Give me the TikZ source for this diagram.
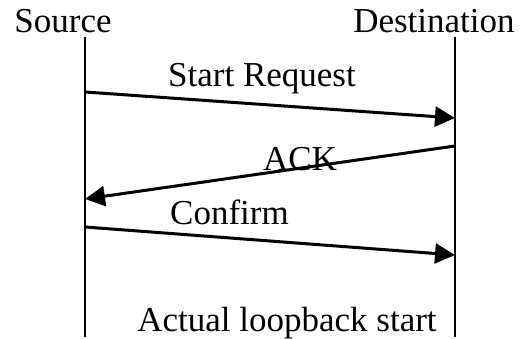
\documentclass[tikz,border=0pt]{standalone}
\usepackage{fontspec}
\setmainfont{Liberation Serif}
\usetikzlibrary{arrows.meta,positioning}

\begin{document}
\begin{tikzpicture}[x=1pt,y=-1pt,
  every node/.style={font=\fontsize{35}{40}\selectfont,inner sep=0pt,anchor=base},
  lebenslinie/.style={line width=2pt},
  nachricht/.style={line width=3pt,-{Triangle[length=20pt,width=20pt]}}]
%Rahmen in Pixeln, y nach unten
  \useasboundingbox (0,0) rectangle (525,339);
  \pgfmathsetmacro{\xQ}{85}
  \pgfmathsetmacro{\xZ}{455}
%Kopfzeile
  \node (quelle) at (63,33) {Source};
  \node (ziel) at (434,33) {Destination};
%Lebenslinien
  \coordinate (qOben) at (\xQ,37);
  \coordinate (qUnten) at (\xQ,337);
  \coordinate (zOben) at (\xZ,37);
  \coordinate (zUnten) at (\xZ,337);
  \draw[lebenslinie] (qOben) -- (qUnten);
  \draw[lebenslinie] (zOben) -- (zUnten);
%Nachrichten: Start, Quittung, Bestaetigung
  \coordinate (q1) at (\xQ,92);
  \coordinate (z1) at (\xZ,118);
  \coordinate (z2) at (\xZ,146);
  \coordinate (q2) at (\xQ,199);
  \coordinate (q3) at (\xQ,227);
  \coordinate (z3) at (\xZ,255);
  \draw[nachricht] (q1) -- (z1);
  \draw[nachricht] (z2) -- (q2);
  \draw[nachricht] (q3) -- (z3);
  \node (start) at (262,87) {Start Request};
  \node (ack) at (300,171) {ACK};
  \node (confirm) at (229.5,225) {Confirm};
  \node (loop) at (287,331) {Actual loopback start};
\end{tikzpicture}
\end{document}
